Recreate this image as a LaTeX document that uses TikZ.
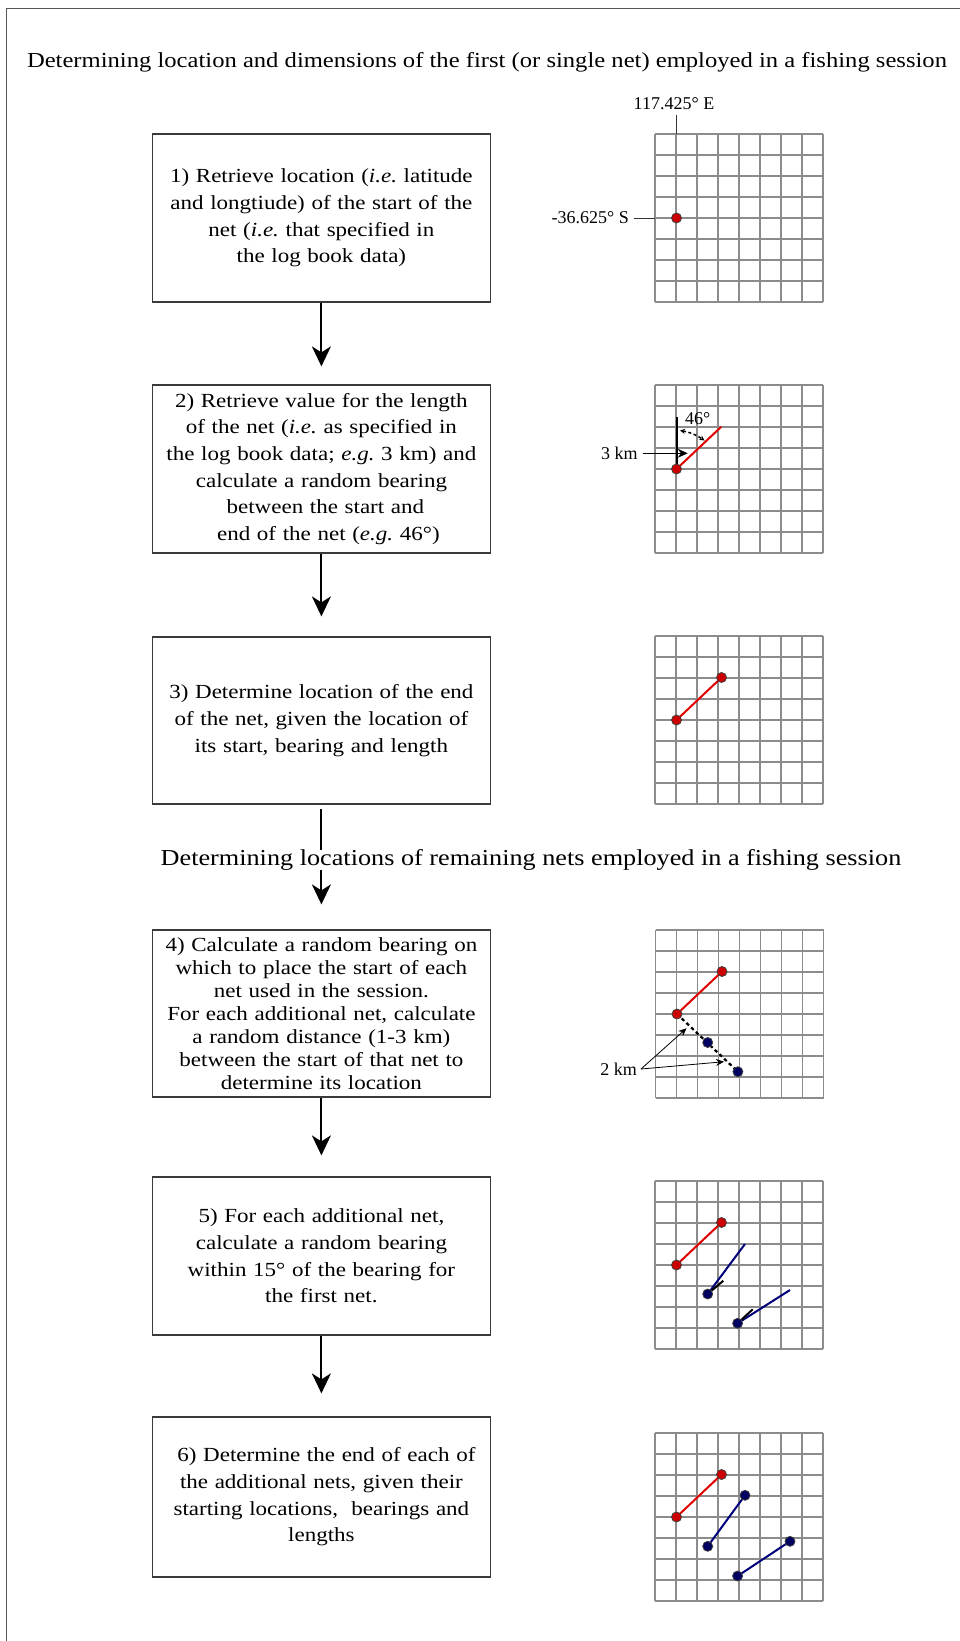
\documentclass[tikz,border=0pt]{standalone}
\usepackage{fontspec}
\setmainfont{Liberation Serif}
\newfontfamily\boxfont[FakeStretch=1.15]{Liberation Serif}
\frenchspacing
\usetikzlibrary{arrows.meta}
\definecolor{gridgray}{HTML}{8C8C8C}
\definecolor{boxcol}{HTML}{3A3A3A}
\definecolor{netred}{HTML}{E00000}
\definecolor{dotred}{HTML}{CC0000}
\definecolor{netblue}{HTML}{00007A}
\definecolor{dotblue}{HTML}{000060}
\definecolor{framecol}{HTML}{555555}
\begin{document}
\begin{tikzpicture}[x=1pt,y=-1pt,
  stepbox/.style={draw=boxcol, line width=1.2pt, minimum width=338pt, text width=334pt, align=center, inner sep=0pt, font=\boxfont\fontsize{20}{26.7}\selectfont},
  headtext/.style={inner sep=1pt, font=\boxfont\fontsize{21.4}{24}\selectfont},
  subtext/.style={inner sep=0pt, font=\boxfont\fontsize{22.8}{25}\selectfont},
  flowarrow/.style={line width=2pt, draw=black, -{Stealth[length=20pt, width=19pt, inset=6pt]}},
  gridline/.style={draw=gridgray, line width=1.2pt},
  redline/.style={draw=netred, line width=2pt},
  blueline/.style={draw=netblue, line width=2pt},
  reddot/.style={circle, fill=dotred, draw=black!75, line width=0.8pt, minimum size=10pt, inner sep=0pt},
  bluedot/.style={circle, fill=dotblue, draw=black!75, line width=0.8pt, minimum size=10pt, inner sep=0pt},
  lbl/.style={font=\fontsize{18}{21}\selectfont, inner sep=0pt},
  ptr/.style={line width=0.8pt, draw=black, -{Stealth[length=8pt, width=7pt]}},
  tickline/.style={line width=1pt, draw=black!80},
  bearline/.style={line width=2pt, draw=black},
  netgrid/.pic={
    \foreach \i in {0,...,8} {
      \draw[gridline] (21*\i,0) -- (21*\i,168);
      \draw[gridline] (0,21*\i) -- (168,21*\i);
    }
  }
]
\useasboundingbox (0,0) rectangle (960,1641);
\fill[white] (0,0) rectangle (960,1641);
\draw[framecol, line width=1pt] (6,1641) -- (6,8) -- (960,8);

% title
\node[headtext] (title) at (487,62) {Determining location and dimensions of the first (or single net) employed in a fishing session};

% boxes
\node[stepbox, minimum height=168pt] (b1) at (321.4,218) {1) Retrieve location (\textit{i.e.} latitude\\ and longtiude) of the start of the\\ net (\textit{i.e.} that specified in\\ the log book data)};
\node[stepbox, minimum height=168pt] (b2) at (321.4,469) {2) Retrieve value for the length\\ of the net (\textit{i.e.} as specified in\\ the log book data; \textit{e.g.} 3 km) and\\ calculate a random bearing\\ \hspace*{8pt}between the start and\\ \hspace*{14pt}end of the net (\textit{e.g.} 46°)};
\node[stepbox, minimum height=167pt] (b3) at (321.4,720.5) {3) Determine location of the end\\ of the net, given the location of\\ its start, bearing and length};
\node[stepbox, minimum height=167pt, font=\boxfont\fontsize{20}{23}\selectfont] (b4) at (321.4,1013.5) {4) Calculate a random bearing on\\ which to place the start of each\\ net used in the session.\\ For each additional net, calculate\\ a random distance (1-3 km)\\ between the start of that net to\\ determine its location};
\node[stepbox, minimum height=158pt] (b5) at (321.4,1256) {5) For each additional net,\\ calculate a random bearing\\ within 15° of the bearing for\\ the first net.};
\node[stepbox, minimum height=160pt] (b6) at (321.4,1497) {\hspace*{10pt}6) Determine the end of each of\\ the additional nets, given their\\ starting locations,\ \ bearings and\\ lengths};

% flow arrows
\draw[flowarrow, shorten >=18pt] (b1.south) -- (b2.north);
\draw[flowarrow, shorten >=20pt] (b2.south) -- (b3.north);
\draw[flowarrow, shorten <=4pt, shorten >=25pt] (b3.south) -- (b4.north);
\draw[flowarrow, shorten >=21pt] (b4.south) -- (b5.north);
\draw[flowarrow, shorten >=23pt] (b5.south) -- (b6.north);

% subtitle over the connector
\node[subtext, fill=white] (subtitle) at (531,860) {Determining locations of remaining nets employed in a fishing session};

% grid 1
\begin{scope}[shift={(655,134)}]
  \pic {netgrid};
  \node[lbl] (lonlbl) at (19,-30) {117.425° E};
  \coordinate (lontop) at (21.5,-19);
  \coordinate (lonbot) at (21.5,0);
  \draw[tickline] (lontop) -- (lonbot);
  \node[lbl, anchor=east] (latlbl) at (-26,84) {-36.625° S};
  \coordinate (latend) at (0,84);
  \draw[tickline] ([xshift=5pt]latlbl.east) -- (latend);
  \node[reddot] (g1s) at (21.5,84) {};
\end{scope}

% grid 2
\begin{scope}[shift={(655,385)}]
  \pic {netgrid};
  \coordinate (g2s) at (21.5,84);
  \coordinate (g2e) at (66.3,41.7);
  \coordinate (g2n) at (21.5,31.7);
  \draw[bearline] (g2s) -- (g2n);
  \draw[redline] (g2s) -- (g2e);
  \coordinate (g2a1) at (25,45.5);
  \coordinate (g2a2) at (49.5,55.5);
  \draw[line width=1.5pt, dash pattern=on 3pt off 2.5pt, {Stealth[length=5pt,width=5pt]}-{Stealth[length=5pt,width=5pt]}] (g2a1) to[bend left=12] (g2a2);
  \node[lbl] (deg) at (42.7,34) {46°};
  \node[lbl, anchor=east] (km3) at (-17.3,68.3) {3 km};
  \coordinate (km3tip) at (32.7,68.3);
  \draw[ptr, -{Stealth[length=10pt,width=9pt]}] ([xshift=5pt]km3.east) -- (km3tip);
  \node[reddot] (g2dot) at (g2s) {};
\end{scope}

% grid 3
\begin{scope}[shift={(655,636)}]
  \pic {netgrid};
  \coordinate (g3s) at (21.5,84);
  \coordinate (g3e) at (66.5,41.5);
  \draw[redline] (g3s) -- (g3e);
  \node[reddot] (g3sd) at (g3s) {};
  \node[reddot] (g3ed) at (g3e) {};
\end{scope}

% grid 4
\begin{scope}[shift={(655.5,930)}]
  \pic {netgrid};
  \coordinate (g4s) at (21.5,84);
  \coordinate (g4e) at (66.5,41.5);
  \coordinate (g4b1) at (52.2,112.5);
  \coordinate (g4b2) at (82.4,141.7);
  \draw[line width=2.2pt, dash pattern=on 3.5pt off 3pt] (g4s) -- (g4b2);
  \draw[redline] (g4s) -- (g4e);
  \node[reddot] (g4sd) at (g4s) {};
  \node[reddot] (g4ed) at (g4e) {};
  \node[bluedot] (g4b1d) at (g4b1) {};
  \node[bluedot] (g4b2d) at (g4b2) {};
  \node[lbl, anchor=east] (km2) at (-18.5,139) {2 km};
  \coordinate (km2a) at (31,98.3);
  \coordinate (km2b) at (68.5,131.7);
  \draw[ptr] ([xshift=4pt]km2.east) -- (km2a);
  \draw[ptr] ([xshift=4pt]km2.east) -- (km2b);
\end{scope}

% grid 5
\begin{scope}[shift={(655,1181)}]
  \pic {netgrid};
  \coordinate (g5s) at (21.5,84);
  \coordinate (g5e) at (66.5,41.5);
  \coordinate (g5b1) at (52.7,113);
  \coordinate (g5b1e) at (90,63);
  \coordinate (g5b1k) at (68.3,99.7);
  \coordinate (g5b2) at (82.6,142.3);
  \coordinate (g5b2e) at (135,109);
  \coordinate (g5b2k) at (97.7,128.3);
  \draw[redline] (g5s) -- (g5e);
  \draw[blueline] (g5b1) -- (g5b1e);
  \draw[blueline] (g5b2) -- (g5b2e);
  \draw[bearline] (g5b1) -- (g5b1k);
  \draw[bearline] (g5b2) -- (g5b2k);
  \node[reddot] (g5sd) at (g5s) {};
  \node[reddot] (g5ed) at (g5e) {};
  \node[bluedot] (g5b1d) at (g5b1) {};
  \node[bluedot] (g5b2d) at (g5b2) {};
\end{scope}

% grid 6
\begin{scope}[shift={(655,1433)}]
  \pic {netgrid};
  \coordinate (g6s) at (21.5,84);
  \coordinate (g6e) at (66.5,41.5);
  \coordinate (g6b1) at (52.7,113.3);
  \coordinate (g6b1e) at (90,62.3);
  \coordinate (g6b2) at (82.6,143);
  \coordinate (g6b2e) at (135,108.3);
  \draw[redline] (g6s) -- (g6e);
  \draw[blueline] (g6b1) -- (g6b1e);
  \draw[blueline] (g6b2) -- (g6b2e);
  \node[reddot] (g6sd) at (g6s) {};
  \node[reddot] (g6ed) at (g6e) {};
  \node[bluedot] (g6b1d) at (g6b1) {};
  \node[bluedot] (g6b1ed) at (g6b1e) {};
  \node[bluedot] (g6b2d) at (g6b2) {};
  \node[bluedot] (g6b2ed) at (g6b2e) {};
\end{scope}
\end{tikzpicture}
\end{document}
